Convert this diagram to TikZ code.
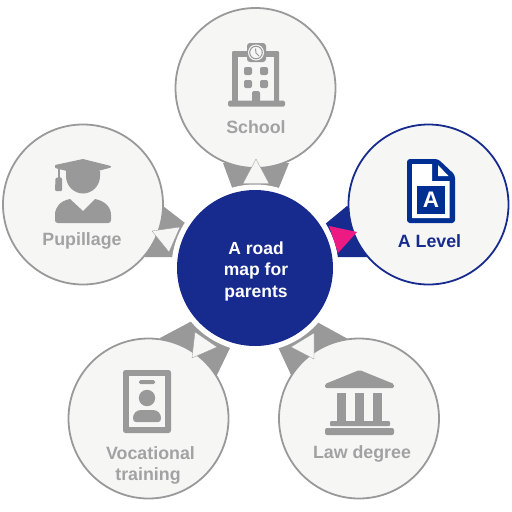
\documentclass[tikz,border=0pt]{standalone}
\usepackage{fontspec}
\setmainfont{Liberation Sans}
\definecolor{navy}{HTML}{172B8E}
\definecolor{docblue}{HTML}{002F93}
\definecolor{midgray}{HTML}{999999}
\definecolor{labelgray}{HTML}{A2A2A2}
\definecolor{paper}{HTML}{F6F6F5}
\definecolor{hotpink}{HTML}{EE1A84}
\tikzset{
  x=1pt,y=-1pt,
  stage/.style={circle,draw=midgray,line width=1.8pt,fill=paper,minimum size=160pt,inner sep=0pt,outer sep=0pt},
  current/.style={stage,draw=navy},
  hub/.style={circle,fill=navy,minimum size=156pt,inner sep=0pt},
  halo/.style={circle,fill=white,minimum size=167pt,inner sep=0pt},
  label/.style={text=labelgray,font=\bfseries\fontsize{17.8}{22.5}\selectfont,align=center,inner sep=0pt},
  wedge/.style={fill=midgray},
  pointer/.style={fill=paper,draw=midgray,line width=0.3pt,line join=round},
  icon/.style={fill=midgray,draw=none},
  hole/.style={fill=paper,draw=none},
}
\begin{document}
\begin{tikzpicture}
\useasboundingbox (0,0) rectangle (512,512);
% wedges
\fill[wedge] (223,163) -- (233,190) -- (278,190) -- (289,163) -- cycle;
\fill[navy] (347,206) -- (324,225) -- (336,257) -- (367,257) -- (380,230) -- cycle;
\fill[wedge] (163,206) -- (185,223) -- (174,257) -- (145,257) -- (130,230) -- cycle;
\fill[wedge] (160,338) -- (192,321) -- (230,348) -- (216,377) -- (180,370) -- cycle;
\fill[wedge] (348,339) -- (317,322) -- (278,347) -- (292,377) -- (330,370) -- cycle;
\node[halo] (ring) at (255,268) {};
\node[hub] (hub) at (255,268) {};
\node[text=white,font=\bfseries\fontsize{17.5}{21.5}\selectfont,align=center,inner sep=0pt] (hubtext) at (256,271) {A road\\map for\\parents};
% stage circles
\node[stage] (school) at (255.5,88) {};
\node[current] (alevel) at (428.5,204.5) {};
\node[stage] (pupillage) at (83,204.5) {};
\node[stage] (vocational) at (148.5,418.5) {};
\node[stage] (law) at (359,418.5) {};
% pointers
\path[pointer] (256,159) -- (243,183.5) -- (269,183.5) -- cycle;
\fill[hotpink] (329,226) -- (357,232) -- (338,253) -- cycle;
\path[pointer] (152,231) -- (180,227) -- (169,252) -- cycle;
\path[pointer] (195,332) -- (217,347) -- (192,358) -- cycle;
\path[pointer] (314,333) -- (314,359) -- (291,347) -- cycle;
% labels
\node[label] (schooltext) at (256,127) {School};
\node[label,text=navy] (aleveltext) at (429.5,241) {A Level};
\node[label] (pupiltext) at (82,241) {Pupillage};
\node[label] (voctext) at (150.5,453.5) {Vocational};
\node[label] (traintext) at (148,476) {training};
\node[label] (lawtext) at (362,453.5) {Law degree};
% school icon
\fill[icon,rounded corners=1pt] (232,51) rectangle (279,102);
\fill[hole] (238,57) rectangle (274,101);
\fill[icon,rounded corners=1.5pt] (228,100.5) rectangle (285,106.5);
\fill[icon,rounded corners=3pt] (247,43) rectangle (266,62);
\fill[hole] (256,52.5) circle[radius=8];
\draw[midgray,line width=1pt] (256,52.5) circle[radius=6.3];
\draw[midgray,line width=1pt] (255.5,48.5) -- (256,53) -- (259,56);
\foreach \wx/\wy in {244/67,260/67,244/80,260/80}
  \fill[icon,rounded corners=2pt] (\wx,\wy) rectangle ++(8,8);
\fill[icon,rounded corners=1.5pt] (252,91) rectangle (260,102);
% A level icon
\fill[docblue,rounded corners=3pt] (407,159) -- (438,159) -- (455,175) -- (455,223) -- (407,223) -- cycle;
\fill[white] (412,164) -- (432,164) -- (432,181) -- (449.5,181) -- (449.5,218) -- (412,218) -- cycle;
\fill[white] (438,165) -- (448.5,176) -- (438,176) -- cycle;
\fill[docblue] (417,185.5) rectangle (445,213.5);
\node[text=white,font=\bfseries\fontsize{22.5}{24}\selectfont,inner sep=0pt] (doca) at (431,199.5) {A};
% pupillage icon
\fill[icon] (66,171) -- (100,171) -- (100,176)
  .. controls (100,186) and (92,193.5) .. (83,193.5) .. controls (74,193.5) and (66,186) .. (66,176) -- cycle;
\fill[icon,rounded corners=0.8pt] (55,165) -- (83,159) -- (111,166) -- (111,167.5) -- (83,175) -- (55,168) -- cycle;
\fill[icon] (57.5,167) rectangle (60,180);
\fill[icon,rounded corners=1pt] (55.5,178) -- (60,177) -- (62,178) -- (62,191) -- (55,191) -- cycle;
\fill[icon] (70,199) -- (83,211) -- (95,199)
  .. controls (105,201) and (111,207) .. (111,215) -- (111,220) .. controls (111,222) and (110,223) .. (108,223)
  -- (58,223) .. controls (56,223) and (55,222) .. (55,220) -- (55,215) .. controls (55,207) and (60,201) .. (70,199) -- cycle;
% vocational icon
\fill[icon,rounded corners=2.5pt] (123,370) rectangle (171,433);
\fill[hole] (129,376) rectangle (165,427);
\fill[icon,rounded corners=1.5pt] (139,380) rectangle (155,384);
\fill[icon] (147,398) circle[radius=8.2];
\fill[icon] (141,410) -- (153,410) .. controls (158,410) and (161,414) .. (161,418)
  .. controls (161,421) and (160,422) .. (158,422) -- (136,422) .. controls (134,422) and (133,421) .. (133,418)
  .. controls (133,414) and (136,410) .. (141,410) -- cycle;
% law icon
\fill[icon,rounded corners=1.5pt] (359.5,370) -- (394,384) -- (394,388) -- (325,388) -- (325,384) -- cycle;
\fill[icon] (337,393) rectangle (346,421);
\fill[icon] (355,393) rectangle (364,421);
\fill[icon] (373,393) rectangle (382,421);
\fill[icon,rounded corners=1pt] (330,421) rectangle (390,426);
\fill[icon,rounded corners=2pt] (325,428) rectangle (394,435);
\end{tikzpicture}
\end{document}
